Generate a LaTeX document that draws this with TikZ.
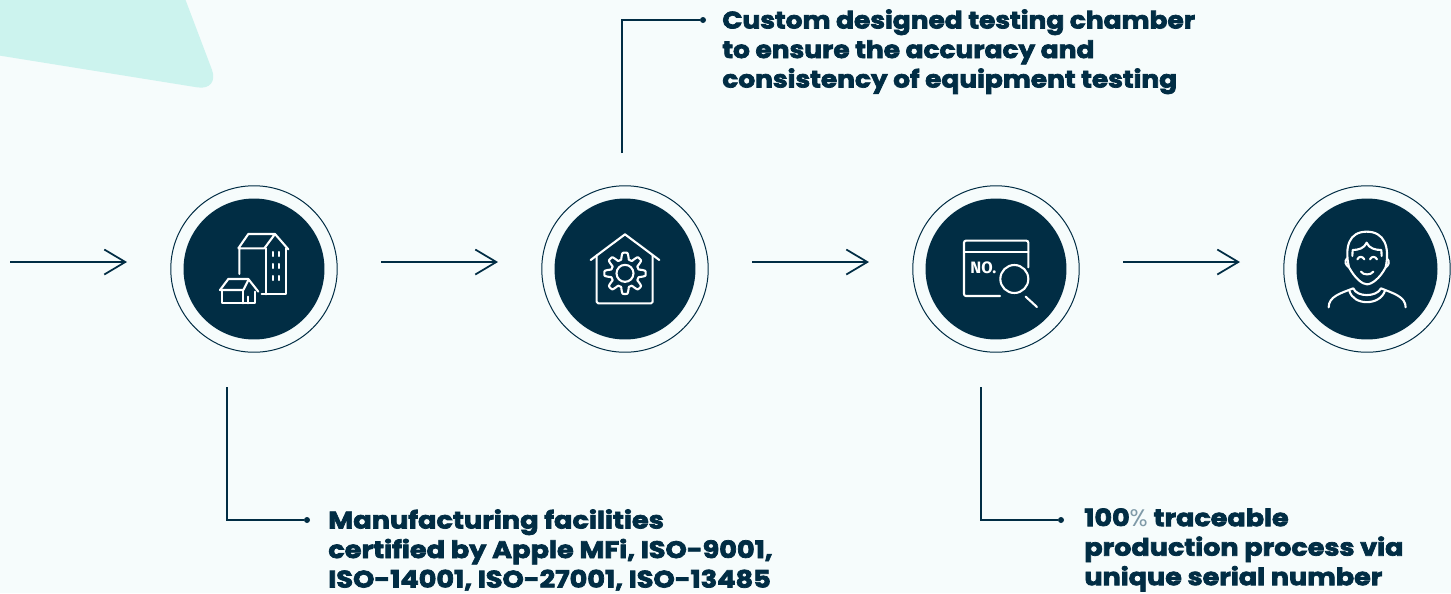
\documentclass[tikz,border=0pt]{standalone}
\usepackage{fontspec}
\setmainfont{Poppins}[BoldFeatures={FakeBold=3}]
\newfontfamily\thinfont{Poppins}
\newfontfamily\iconfont{Fira Sans}
\usetikzlibrary{arrows.meta}
\definecolor{deepnavy}{HTML}{012D44}
\definecolor{paleback}{HTML}{F6FCFC}
\definecolor{palemint}{HTML}{CCF3EE}
\definecolor{thinblue}{HTML}{7F9AA8}
\tikzset{
  outerring/.style={circle, draw=deepnavy, line width=0.02cm, fill=paleback, minimum size=3.33cm, inner sep=0pt},
  innerdisc/.style={circle, fill=deepnavy, minimum size=2.82cm, inner sep=0pt},
  flowarrow/.style={draw=deepnavy, line width=0.035cm, -{Straight Barb[length=0.42cm, width=0.5cm, line width=0.035cm]}},
  leader/.style={draw=deepnavy, line width=0.025cm},
  leaderdot/.style={circle, fill=deepnavy, minimum size=0.12cm, inner sep=0pt},
  caption/.style={anchor=north west, align=left, text=deepnavy, inner sep=0pt, font=\bfseries\fontsize{13.6pt}{16.8pt}\selectfont\addfontfeature{FakeStretch=#1}},
  iconline/.style={draw=white, line width=0.042cm, line cap=round, line join=round},
  iconzoom/.style={shift={#1}, x=0.00667cm, y=-0.00667cm}
}
\begin{document}
\begin{tikzpicture}[x=0.02cm, y=-0.02cm]
           \useasboundingbox (0,0) rectangle (1451,593);
           \fill[paleback] (0,0) rectangle (1451,593);

           % Corner shape
           \begin{scope}
           \clip (0,0) rectangle (1451,593);
           \fill[palemint, rounded corners=0.46cm] (-60,46)--(220,91)--(178,-20)--(-60,-20)--cycle;
           \end{scope}

           % Rings and discs
           \node[outerring] (ringa) at (254,269) {};
           \node[innerdisc] (disca) at (ringa) {};
           \node[outerring] (ringb) at (625,269) {};
           \node[innerdisc] (discb) at (ringb) {};
           \node[outerring] (ringc) at (996,269) {};
           \node[innerdisc] (discc) at (ringc) {};
           \node[outerring] (ringd) at (1367,269) {};
           \node[innerdisc] (discd) at (ringd) {};

           % Flow arrows
           \coordinate (arrowastart) at (10,262);
           \coordinate (arrowaend) at (127,262);
           \coordinate (arrowbstart) at (381,262);
           \coordinate (arrowbend) at (498,262);
           \coordinate (arrowcstart) at (752,262);
           \coordinate (arrowcend) at (869,262);
           \coordinate (arrowdstart) at (1123,262);
           \coordinate (arrowdend) at (1240,262);
           \draw[flowarrow] (arrowastart)--(arrowaend);
           \draw[flowarrow] (arrowbstart)--(arrowbend);
           \draw[flowarrow] (arrowcstart)--(arrowcend);
           \draw[flowarrow] (arrowdstart)--(arrowdend);

           % Buildings icon
           \begin{scope}[iconzoom={(160,180)}]
           \draw[iconline] (238,282)--(238,205)--(313,205)--(345,162)--(265,162)--(235,205);
           \draw[iconline] (345,162)--(385,208);
           \draw[iconline] (318,205)--(318,343);
           \draw[iconline] (378,205)--(378,343)--(305,343);
           \draw[iconline] (338,216)--(338,228) (356,216)--(356,228);
           \draw[iconline] (338,252)--(338,264) (356,252)--(356,264);
           \draw[iconline] (338,288)--(338,300) (356,288)--(356,300);
           \draw[iconline] (180,330)--(205,297)--(265,297)--(295,335);
           \draw[iconline] (180,330)--(250,330)--(265,300);
           \draw[iconline] (185,330)--(185,370)--(285,370)--(285,335);
           \draw[iconline] (250,330)--(250,370);
           \draw[iconline] (265,350)--(265,370);
           \end{scope}

           % Gear house icon
           \begin{scope}[iconzoom={(535,180)}]
           \draw[iconline] (167,240)--(270,163)--(373,240);
           \draw[iconline, rounded corners=0.03cm] (185,226)--(185,370)--(353,370)--(353,226);
           \draw[iconline] (270,280) circle [radius=0.17cm];
           \draw[iconline, smooth] plot[samples=145, domain=0:360]
             ({270+(52+10*max(-1,min(1,1.7*cos(8*\x))))*cos(\x)},{280+(52+10*max(-1,min(1,1.7*cos(8*\x))))*sin(\x)});
           \end{scope}

           % Serial number icon
           \begin{scope}[iconzoom={(905,180)}]
           \draw[iconline, rounded corners=0.04cm] (285,348)--(177,348)--(177,182)--(370,182)--(370,262);
           \draw[iconline] (177,215)--(370,215);
           \draw[iconline] (328,297) circle [radius=0.28cm];
           \draw[iconline] (362,350)--(396,381);
           \node[text=white, inner sep=0pt, font=\iconfont\bfseries\fontsize{9.4pt}{10pt}\selectfont] (serialno) at (235,262) {NO.};
           \end{scope}

           % Person icon
           \begin{scope}[iconzoom={(1275,180)}]
           \draw[iconline] (222,262) .. controls (208,200) and (222,155) .. (275,155)
             .. controls (328,155) and (345,200) .. (332,262);
           \draw[iconline] (216,235) .. controls (207,245) and (212,255) .. (222,262)
             .. controls (240,295) and (262,313) .. (276,313)
             .. controls (290,313) and (315,295) .. (332,262)
             .. controls (342,255) and (345,245) .. (336,235);
           \draw[iconline] (232,228)--(233,210) .. controls (250,210) and (268,205) .. (275,188)
             .. controls (282,205) and (300,210) .. (319,210)--(320,228);
           \draw[iconline] (247,238) .. controls (252,228) and (262,228) .. (268,238);
           \draw[iconline] (285,238) .. controls (290,228) and (300,228) .. (306,238);
           \draw[iconline] (258,275) .. controls (265,286) and (287,286) .. (295,275);
           \draw[iconline] (161,382) .. controls (161,350) and (195,340) .. (235,325)
             .. controls (245,352) and (305,352) .. (318,325)
             .. controls (355,340) and (392,350) .. (392,382);
           \draw[iconline] (223,332) .. controls (235,378) and (315,378) .. (330,332);
           \end{scope}

           % Captions
           \node[caption=1.105] (captionchamber) at (722,9) {Custom designed testing chamber\\to ensure the accuracy and\\consistency of equipment testing};
           \node[caption=1.136] (captionfacilities) at (328,509) {Manufacturing facilities\\certified by Apple MFi, ISO-9001,\\ISO-14001, ISO-27001, ISO-13485};
           \node[caption=1.13] (captiontrace) at (1084,508) {100{\mdseries\thinfont\color{thinblue}\%} traceable\\production process via\\unique serial number};

           % Leader lines
           \node[leaderdot] (dotchamber) at (703,20) {};
           \node[leaderdot] (dotfacilities) at (307,520) {};
           \node[leaderdot] (dottrace) at (1061,520) {};
           \coordinate (startchamber) at (622,153);
           \coordinate (startfacilities) at (227,387);
           \coordinate (starttrace) at (981,387);
           \draw[leader] (startchamber)|-(dotchamber);
           \draw[leader] (startfacilities)|-(dotfacilities);
           \draw[leader] (starttrace)|-(dottrace);

\end{tikzpicture}
\end{document}
